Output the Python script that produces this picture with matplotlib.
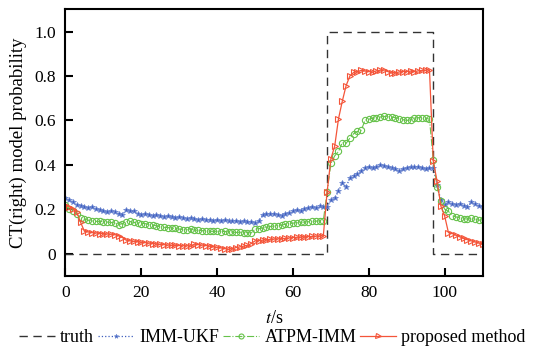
import matplotlib
matplotlib.use("Agg")
import matplotlib.pyplot as plt

plt.rcParams['font.family'] = ['Liberation Serif', 'DejaVu Serif']
plt.rcParams['mathtext.fontset'] = 'stix'

t = list(range(0, 111))

truth_t = [0, 69, 69, 97, 97, 110]
truth_v = [0, 0, 1, 1, 0, 0]

imm_ukf = [0.25, 0.24, 0.23, 0.22, 0.215, 0.21, 0.205, 0.21, 0.2, 0.195,
           0.19, 0.185, 0.19, 0.185, 0.18, 0.175, 0.195, 0.19, 0.19, 0.18,
           0.175, 0.18, 0.175, 0.17, 0.172, 0.168, 0.165, 0.168, 0.163, 0.16,
           0.163, 0.158, 0.155, 0.16, 0.155, 0.152, 0.155, 0.15, 0.152, 0.148,
           0.15, 0.147, 0.15, 0.148, 0.145, 0.147, 0.143, 0.145, 0.14, 0.142,
           0.138, 0.145, 0.175, 0.178, 0.176, 0.18, 0.175, 0.17, 0.178, 0.183,
           0.19, 0.195, 0.19, 0.2, 0.205, 0.21, 0.205, 0.212, 0.21, 0.21,
           0.24, 0.25, 0.28, 0.32, 0.30, 0.34, 0.35, 0.36, 0.37, 0.385,
           0.39, 0.385, 0.39, 0.40, 0.395, 0.39, 0.385, 0.38, 0.37, 0.38,
           0.385, 0.39, 0.388, 0.39, 0.385, 0.38, 0.385, 0.385, 0.31, 0.24,
           0.22, 0.23, 0.225, 0.22, 0.225, 0.215, 0.21, 0.23, 0.225, 0.215,
           0.21]

atpm_imm = [0.22, 0.2, 0.19, 0.177, 0.16, 0.155, 0.15, 0.147, 0.145, 0.145,
            0.143, 0.142, 0.14, 0.138, 0.13, 0.135, 0.144, 0.145, 0.14, 0.138,
            0.135, 0.135, 0.13, 0.128, 0.125, 0.12, 0.118, 0.117, 0.115, 0.113,
            0.11, 0.108, 0.106, 0.112, 0.104, 0.105, 0.103, 0.102, 0.1, 0.1,
            0.1, 0.098, 0.1, 0.097, 0.097, 0.095, 0.096, 0.094, 0.094, 0.093,
            0.11, 0.112, 0.115, 0.118, 0.122, 0.124, 0.126, 0.128, 0.132, 0.135,
            0.137, 0.139, 0.14, 0.142, 0.143, 0.145, 0.146, 0.147, 0.148, 0.277,
            0.406, 0.44, 0.46, 0.50, 0.496, 0.52, 0.54, 0.55, 0.556, 0.60,
            0.605, 0.61, 0.612, 0.615, 0.618, 0.617, 0.615, 0.612, 0.608, 0.603,
            0.60, 0.602, 0.61, 0.612, 0.612, 0.61, 0.605, 0.42, 0.30, 0.236,
            0.2, 0.19, 0.17, 0.165, 0.16, 0.157, 0.155, 0.158, 0.155, 0.15,
            0.152]

proposed = [0.22, 0.21, 0.20, 0.185, 0.14, 0.10, 0.097, 0.094, 0.093, 0.09,
            0.09, 0.088, 0.087, 0.085, 0.08, 0.072, 0.06, 0.057, 0.055, 0.053,
            0.05, 0.049, 0.047, 0.045, 0.043, 0.041, 0.04, 0.038, 0.037, 0.037,
            0.036, 0.035, 0.035, 0.034, 0.042, 0.04, 0.038, 0.036, 0.034, 0.03,
            0.028, 0.025, 0.022, 0.019, 0.022, 0.027, 0.03, 0.033, 0.037, 0.045,
            0.057, 0.058, 0.06, 0.062, 0.064, 0.065, 0.066, 0.067, 0.068, 0.07,
            0.072, 0.073, 0.074, 0.075, 0.076, 0.077, 0.078, 0.079, 0.079, 0.277,
            0.427, 0.484, 0.607, 0.686, 0.756, 0.80, 0.816, 0.82, 0.825, 0.822,
            0.82, 0.818, 0.823, 0.826, 0.828, 0.82, 0.813, 0.815, 0.818, 0.82,
            0.82, 0.822, 0.82, 0.823, 0.825, 0.826, 0.828, 0.416, 0.326, 0.214,
            0.169, 0.094, 0.09, 0.082, 0.075, 0.068, 0.062, 0.057, 0.052, 0.047,
            0.042]

fig = plt.figure(figsize=(5.35, 3.49), dpi=100)
ax = fig.add_axes([0.1224, 0.210, 0.902 - 0.1224, 0.973 - 0.210])

ax.plot(truth_t, truth_v, linestyle=(0, (6, 4)), color='#333333', lw=1.0, label='truth')
ax.plot(t, imm_ukf, linestyle=':', color='#3f5fbf', lw=0.9, marker='*', ms=4,
        markerfacecolor='#3f5fbf', markeredgecolor='#6a85d0', markeredgewidth=0.5,
        label='IMM-UKF')
ax.plot(t, atpm_imm, linestyle='-.', color='#66c24a', lw=0.8, marker='o', ms=4.5,
        markerfacecolor='none', markeredgecolor='#66c24a', markeredgewidth=0.8,
        label='ATPM-IMM')
ax.plot(t, proposed, linestyle='-', color='#f4553a', lw=0.9, marker='>', ms=4.5,
        markerfacecolor='none', markeredgecolor='#f4553a', markeredgewidth=0.8,
        label='proposed method')

ax.set_xlim(0, 110)
ax.set_ylim(-0.1, 1.1)
ax.set_xticks([0, 20, 40, 60, 80, 100])
ax.set_yticks([0, 0.2, 0.4, 0.6, 0.8, 1.0])
ax.set_yticklabels(['0', '0.2', '0.4', '0.6', '0.8', '1.0'])
ax.tick_params(direction='in', length=6, width=1.5, labelsize=12.5, pad=7)
for s in ax.spines.values():
    s.set_linewidth(1.5)

ax.set_xlabel('$t$/s', fontsize=13, labelpad=6)
ax.set_ylabel('CT(right) model probability', fontsize=13.5, labelpad=5)

fig.legend(loc='center', bbox_to_anchor=(0.509, 0.032), ncol=4, frameon=False,
           fontsize=13, handlelength=2.0, handletextpad=0.3, columnspacing=0.2,
           borderaxespad=0, borderpad=0, markerscale=0.8)

fig.savefig('out.png', dpi=100)
